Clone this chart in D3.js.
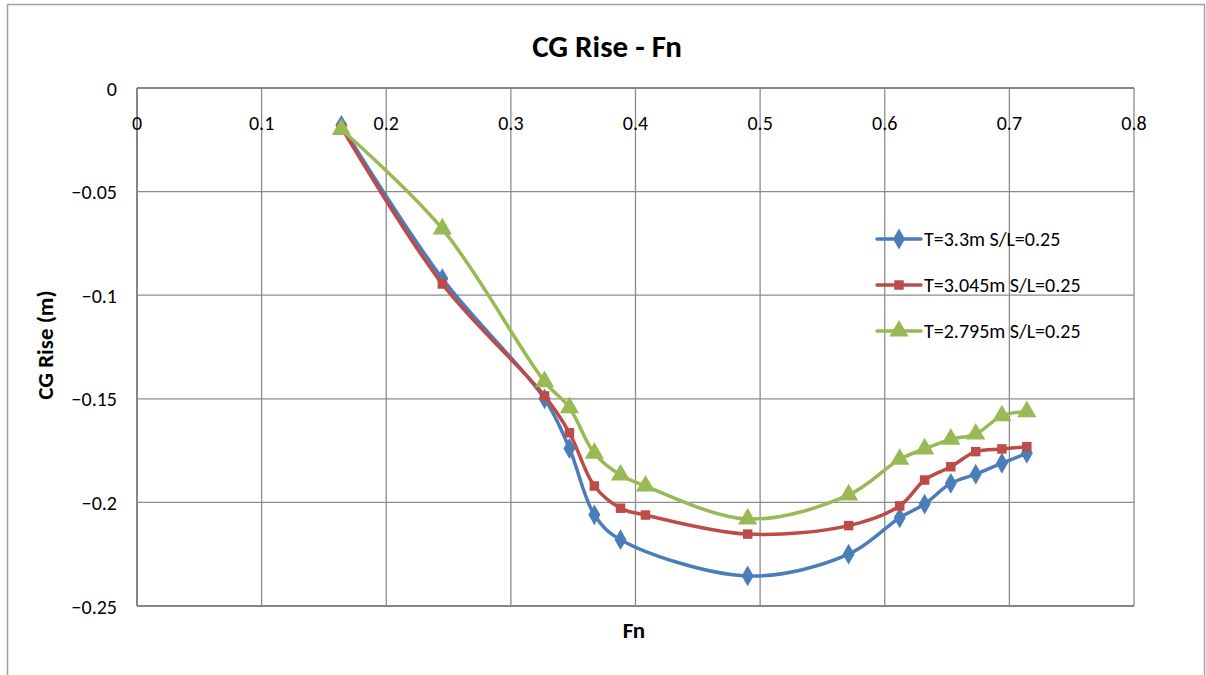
<!DOCTYPE html>
<html><head><meta charset="utf-8">
<script src="https://cdn.jsdelivr.net/npm/d3@7"></script>
<style>body{margin:0;background:#fff}svg{display:block}text{font-family:Carlito,Lato,"Open Sans",sans-serif}</style>
</head><body><svg id="c" width="1206" height="675"></svg>
<script>
const fnBlue = [0.164,0.245,0.327,0.347,0.367,0.388,0.490,0.571,0.612,0.632,0.653,0.673,0.694,0.714];
const riseBlue = [-0.018,-0.092,-0.150,-0.174,-0.206,-0.218,-0.2355,-0.225,-0.2074,-0.2008,-0.1908,-0.1864,-0.1811,-0.1763];
const fnRed = [0.164,0.245,0.327,0.347,0.367,0.388,0.408,0.490,0.571,0.612,0.632,0.653,0.673,0.694,0.714];
const riseRed = [-0.019,-0.0946,-0.1486,-0.1664,-0.1921,-0.2028,-0.2061,-0.2153,-0.2112,-0.2017,-0.1892,-0.1828,-0.1755,-0.1742,-0.1731];
const fnGreen = [0.164,0.245,0.327,0.347,0.367,0.388,0.408,0.490,0.571,0.612,0.632,0.653,0.673,0.694,0.714];
const riseGreen = [-0.020,-0.068,-0.1417,-0.1543,-0.1763,-0.1868,-0.1921,-0.2080,-0.1964,-0.1792,-0.1742,-0.1695,-0.1670,-0.1582,-0.1562];
const seriesNames = ["T=3.3m S/L=0.25","T=3.045m S/L=0.25","T=2.795m S/L=0.25"];
const xTicks = [0,0.1,0.2,0.3,0.4,0.5,0.6,0.7,0.8];
const yTicks = [0,-0.05,-0.1,-0.15,-0.2,-0.25];
const titleText = "CG Rise - Fn", xTitle = "Fn", yTitle = "CG Rise (m)";

const svg = d3.select("#c");
const colors = ["#4A7EBB","#BE4B48","#98B954"];
const symbols = [d3.symbolDiamond, d3.symbolSquare, d3.symbolTriangle];
const symSizes = [125, 90, 160];
const series = [
  {name:seriesNames[0], xs:fnBlue, ys:riseBlue},
  {name:seriesNames[1], xs:fnRed, ys:riseRed},
  {name:seriesNames[2], xs:fnGreen, ys:riseGreen}
];

// outer border
svg.append("rect").attr("x",7.5).attr("y",4.5).attr("width",1197).attr("height",680)
  .attr("fill","none").attr("stroke","#a0a0a0").attr("stroke-width",1.5);

const x = d3.scaleLinear().domain([0,0.8]).range([137,1134]);
const y = d3.scaleLinear().domain([-0.25,0]).range([606,88]);

// gridlines
const g = svg.append("g");
g.selectAll(".vg").data(xTicks).join("line")
  .attr("x1",d=>x(d)).attr("x2",d=>x(d)).attr("y1",y(0)).attr("y2",y(-0.25))
  .attr("stroke","#8c8c8c").attr("stroke-width",1.3);
g.selectAll(".hg").data(yTicks).join("line")
  .attr("x1",x(0)).attr("x2",x(0.8)).attr("y1",d=>y(d)).attr("y2",d=>y(d))
  .attr("stroke","#8c8c8c").attr("stroke-width",1.3);
// axis lines
g.append("line").attr("x1",x(0)).attr("x2",x(0.8)).attr("y1",y(0)).attr("y2",y(0)).attr("stroke","#868686").attr("stroke-width",2);
g.append("line").attr("x1",x(0)).attr("x2",x(0.8)).attr("y1",y(-0.25)).attr("y2",y(-0.25)).attr("stroke","#868686").attr("stroke-width",2);
g.append("line").attr("x1",x(0)).attr("x2",x(0)).attr("y1",y(0)).attr("y2",y(-0.25)).attr("stroke","#868686").attr("stroke-width",2);

// tick labels
svg.append("g").selectAll("text").data(xTicks).join("text")
  .attr("x",d=>x(d)).attr("y",y(0)+42).attr("text-anchor","middle")
  .attr("font-size",20).attr("fill","#000").text(d=>d3.format("")(d));
svg.append("g").selectAll("text").data(yTicks).join("text")
  .attr("x",117).attr("y",d=>y(d)+7.5).attr("text-anchor","end")
  .attr("font-size",20).attr("fill","#000").text(d=>d===0?"0":d3.format("")(d));

// titles
svg.append("text").attr("x",607).attr("y",57).attr("text-anchor","middle")
  .attr("font-size",31).attr("font-weight","bold").text(titleText);
svg.append("text").attr("x",634).attr("y",638).attr("text-anchor","middle")
  .attr("font-size",23).attr("font-weight","bold").text(xTitle);
svg.append("text").attr("transform","translate(53,345) rotate(-90)").attr("text-anchor","middle")
  .attr("font-size",23).attr("font-weight","bold").text(yTitle);

// lines
const line = d3.line().x(d=>x(d[0])).y(d=>y(d[1])).curve(d3.curveCatmullRom.alpha(0.5));
series.forEach((s,i)=>{
  const pts = s.xs.map((v,j)=>[v,s.ys[j]]);
  svg.append("path").datum(pts).attr("d",line).attr("fill","none")
    .attr("stroke",colors[i]).attr("stroke-width",3.5).attr("stroke-linejoin","round");
  svg.append("g").selectAll("path").data(pts).join("path")
    .attr("transform",d=>`translate(${x(d[0])},${y(d[1])})`)
    .attr("d",d3.symbol().type(symbols[i]).size(symSizes[i])).attr("fill",colors[i]);
});

// legend
const lg = svg.append("g");
series.forEach((s,i)=>{
  const ly = 239 + i*46;
  lg.append("line").attr("x1",877).attr("x2",921).attr("y1",ly).attr("y2",ly)
    .attr("stroke",colors[i]).attr("stroke-width",3.5).attr("stroke-linecap","round");
  lg.append("path").attr("transform",`translate(899,${ly})`)
    .attr("d",d3.symbol().type(symbols[i]).size(symSizes[i])).attr("fill",colors[i]);
  lg.append("text").attr("x",924).attr("y",ly+7).attr("font-size",20).text(s.name);
});
</script></body></html>
